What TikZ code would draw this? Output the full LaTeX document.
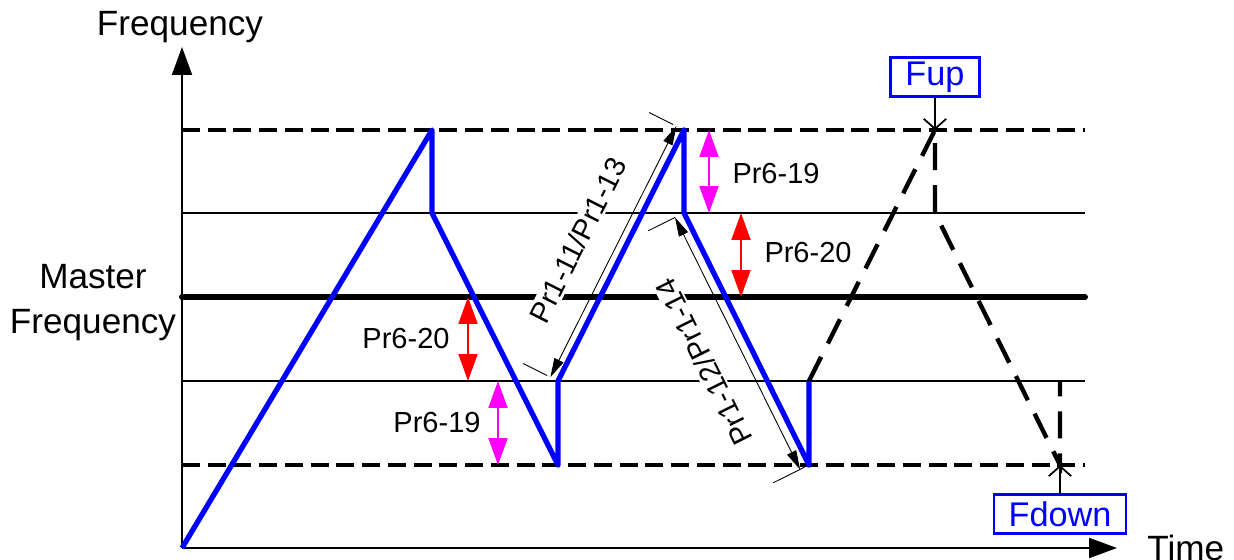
\documentclass[tikz,border=0pt]{standalone}
\usepackage{fontspec}
\setmainfont{Liberation Sans}
\usetikzlibrary{arrows.meta, positioning, calc}
\definecolor{mag}{RGB}{255,0,255}
\definecolor{pureblue}{RGB}{0,0,255}
\definecolor{purered}{RGB}{255,0,0}

\begin{document}
\begin{tikzpicture}[
  x=0.02cm, y=-0.02cm,
  big/.style={font=\fontsize{20}{25.6}\selectfont, inner sep=0pt},
  par/.style={font=\fontsize{16.5}{20}\selectfont, inner sep=0pt},
  dimlbl/.style={par, fill=white, inner sep=1pt},
  fbox/.style={draw=pureblue, line width=1.2pt, text=pureblue, font=\fontsize{19.5}{23}\selectfont, inner xsep=0.3cm, inner ysep=0pt, minimum height=0.78cm},
  axis/.style={line width=1.1pt, -{Triangle[length=0.56cm, width=0.4cm]}},
  thin/.style={line width=1.1pt},
  lim/.style={line width=2pt, dash pattern=on 0.36cm off 0.155cm},
  master/.style={line width=3.4pt, line cap=round},
  run/.style={pureblue, line width=3pt, line join=round},
  est/.style={line width=2.5pt, dash pattern=on 0.54cm off 0.3cm},
  dim/.style={line width=0.5pt, {Triangle[length=0.38cm, width=0.2cm]}-{Triangle[length=0.38cm, width=0.2cm]}},
  ext/.style={line width=0.5pt},
  band/.style={line width=1.1pt, {Triangle[length=0.54cm, width=0.38cm]}-{Triangle[length=0.54cm, width=0.38cm]}},
  ptr/.style={line width=1pt, -{Straight Barb[length=0.2cm, width=0.45cm]}},
]
\useasboundingbox (0,0) rectangle (1234,560);

\coordinate (o)    at (182,548);
\coordinate (ytip) at (182,47);
\coordinate (xtip) at (1117,548);

\coordinate (p1) at (432,130);
\coordinate (p2) at (432,213);
\coordinate (p3) at (558,465);
\coordinate (p4) at (558,381);
\coordinate (p5) at (684,130);
\coordinate (p6) at (684,213);
\coordinate (p7) at (809,465);
\coordinate (p8) at (809,381);
\coordinate (q1) at (935,130);
\coordinate (q2) at (935,213);
\coordinate (q3) at (1060,465);
\coordinate (q4) at (1060,381);

\draw[lim]    (182,130) -- (1085,130);
\draw[thin]   (182,213) -- (1085,213);
\draw[master] (182,297) -- (1085,297);
\draw[thin]   (182,381) -- (1085,381);
\draw[lim]    (182,465) -- (1085,465);

\draw[axis] (o) -- (ytip);
\draw[axis] (o) -- (xtip);

\node[dimlbl, rotate=63.3]  (t11) at (578,240) {Pr1-11/Pr1-13};
\node[dimlbl, rotate=116.4] (t12) at (704,362) {Pr1-12/Pr1-14};

\draw[run] (o) -- (p1) -- (p2) -- (p3) -- (p4) -- (p5) -- (p6) -- (p7) -- (p8);
\draw[est] (p8) -- (q1) -- (q2) -- (q3) -- (q4);

\draw[dim] ($(p4)!0.17cm!90:(p5)$) -- ($(p5)!0.17cm!-90:(p4)$);
\draw[ext] ($(p4)!0.24cm!90:(p5)$) -- ($(p4)!0.78cm!90:(p5)$);
\draw[ext] ($(p5)!0.24cm!-90:(p4)$) -- ($(p5)!0.78cm!-90:(p4)$);
\draw[dim] ($(p6)!0.2cm!-90:(p7)$) -- ($(p7)!0.2cm!90:(p6)$);
\draw[ext] ($(p6)!0.2cm!-90:(p7)$) -- ($(p6)!0.8cm!-90:(p7)$);
\draw[ext] ($(p7)!0.1cm!90:(p6)$) -- ($(p7)!0.8cm!90:(p6)$);

\draw[band, mag]     (709,130) -- (709,213);
\draw[band, purered] (741,213) -- (741,297);
\draw[band, purered] (468,297) -- (468,381);
\draw[band, mag]     (498,381) -- (498,465);

\node[par] (r19a) at (776,174) {Pr6-19};
\node[par] (r20a) at (808,253) {Pr6-20};
\node[par] (r20b) at (406,339) {Pr6-20};
\node[par] (r19b) at (437,423) {Pr6-19};

\node[fbox] (fup)   at (935,77)   {Fup};
\node[fbox] (fdown) at (1060,514) {Fdown};
\draw[ptr] (fup) -- (q1);
\draw[ptr] (fdown) -- (q3);

\node[big, anchor=base] (freq) at (180,36) {Frequency};
\node[big, align=center] (mf) at (93,303) {Master\\Frequency};
\node[big, anchor=base west] (time) at (1147,560) {Time};
\end{tikzpicture}
\end{document}
